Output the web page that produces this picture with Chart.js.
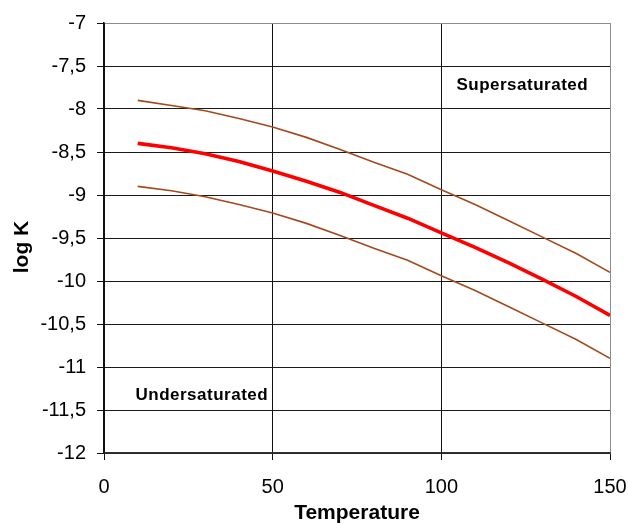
<!DOCTYPE html>
<html>
<head>
<meta charset="utf-8">
<script src="https://cdn.jsdelivr.net/npm/chart.js@4/dist/chart.umd.min.js"></script>
<style>
  html, body { margin: 0; padding: 0; background: #fff; }
  #wrap { width: 628px; height: 524px; }
</style>
</head>
<body>
<div id="wrap"><canvas id="c" width="628" height="524"></canvas></div>
<script>
// Temperature (°C) and solubility band, log K
const temperatures = [10, 20, 30, 40, 50, 60, 70, 80, 90, 100, 110, 120, 130, 140, 150];
const logKUpper = [-7.90, -7.96, -8.02, -8.11, -8.21, -8.33, -8.47, -8.62, -8.76, -8.94, -9.11, -9.30, -9.49, -9.68, -9.90];
const logKMid   = [-8.40, -8.45, -8.52, -8.61, -8.72, -8.84, -8.97, -9.12, -9.27, -9.44, -9.61, -9.79, -9.98, -10.18, -10.40];
const logKLower = [-8.90, -8.95, -9.02, -9.11, -9.21, -9.33, -9.47, -9.62, -9.76, -9.94, -10.11, -10.30, -10.49, -10.68, -10.90];

const xTicks = [0, 50, 100, 150];
const yTicks = [-12, -11.5, -11, -10.5, -10, -9.5, -9, -8.5, -8, -7.5, -7];

const regionLabels = ['Supersaturated', 'Undersaturated'];
const regionAnchorsT = [124, 29];
const regionAnchorsK = [-7.72, -11.33];

const toPoints = arr => temperatures.map((t, i) => ({ x: t, y: arr[i] }));
const comma = v => String(v).replace('.', ',');

const FONT = "'Liberation Sans', Arial, sans-serif";

// Region names and the rotated y-axis caption
const textPlugin = {
  id: 'regionText',
  afterDraw(chart) {
    const { ctx, scales } = chart;
    ctx.save();
    ctx.fillStyle = '#000';
    ctx.font = 'bold 17px ' + FONT;
    ctx.textAlign = 'center';
    ctx.textBaseline = 'middle';
    try { ctx.letterSpacing = '0.5px'; } catch (e) {}
    regionLabels.forEach((txt, i) => {
      ctx.fillText(txt, scales.x.getPixelForValue(regionAnchorsT[i]), scales.y.getPixelForValue(regionAnchorsK[i]));
    });
    try { ctx.letterSpacing = '0px'; } catch (e) {}
    ctx.font = 'bold 21px ' + FONT;
    ctx.translate(22, 247);
    ctx.rotate(-Math.PI / 2);
    ctx.fillText('log K', 0, 0);
    ctx.restore();
  }
};

const brown = '#A4491C';

new Chart(document.getElementById('c'), {
  type: 'line',
  data: {
    datasets: [
      { data: toPoints(logKUpper), borderColor: brown, borderWidth: 1.6, pointRadius: 0, tension: 0 },
      { data: toPoints(logKMid), borderColor: '#FF0000', borderWidth: 3.6, pointRadius: 0, tension: 0 },
      { data: toPoints(logKLower), borderColor: brown, borderWidth: 1.6, pointRadius: 0, tension: 0 }
    ]
  },
  options: {
    responsive: false,
    animation: false,
    events: [],
    layout: { padding: { top: 22, right: 0, left: 0, bottom: 0 } },
    plugins: { legend: { display: false }, tooltip: { enabled: false } },
    scales: {
      x: {
        type: 'linear',
        min: 0, max: 150,
        afterFit: s => { s.height = 71; s.paddingLeft = 0; s.paddingRight = 18; },
        afterBuildTicks: s => { s.ticks = xTicks.map(v => ({ value: v })); },
        ticks: { font: { family: FONT, size: 20 }, color: '#000', padding: 15, maxRotation: 0, callback: v => comma(v) },
        grid: {
          color: c => c.tick.value === 150 ? '#8c8c8c' : '#111',
          lineWidth: 1,
          tickLength: 7,
          tickColor: '#111'
        },
        border: { color: '#333', width: 1.5 },
        title: { display: true, text: 'Temperature', color: '#000', font: { family: FONT, size: 21, weight: 'bold' }, padding: { top: 0, bottom: -2 } }
      },
      y: {
        type: 'linear',
        min: -12, max: -7,
        afterFit: s => { s.width = 104; },
        afterBuildTicks: s => { s.ticks = yTicks.map(v => ({ value: v })); },
        ticks: { font: { family: FONT, size: 20 }, color: '#000', padding: 11, callback: v => comma(v) },
        grid: {
          color: c => c.tick.value === -7 ? '#8c8c8c' : '#1a1a1a',
          lineWidth: 1,
          tickLength: 7,
          tickColor: '#111'
        },
        border: { color: '#111', width: 1.6 }
      }
    }
  },
  plugins: [textPlugin]
});
</script>
</body>
</html>
